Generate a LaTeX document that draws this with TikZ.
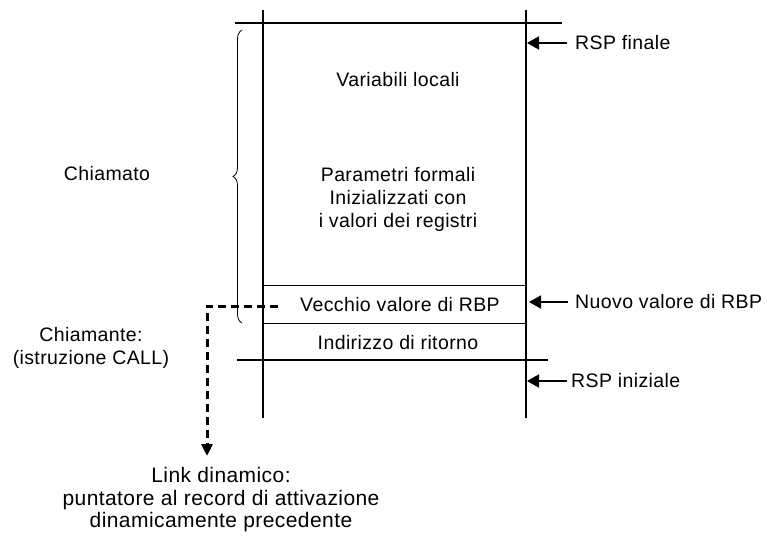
\documentclass[tikz,border=0pt]{standalone}
\usepackage{fontspec}
\setmainfont{Liberation Sans}[LetterSpace=2]
\usetikzlibrary{decorations.pathreplacing,arrows.meta}
\begin{document}
\begin{tikzpicture}[x=1pt,y={(0,-1pt)},
  lbl/.style={font=\fontsize{19.5}{23}\selectfont, inner sep=0pt, align=center},
  biglbl/.style={font=\fontsize{21}{22.5}\selectfont, inner sep=0pt, align=center},
  stk/.style={line width=1.2pt},
  thin/.style={line width=0.9pt},
  ptr/.style={line width=1.8pt,-{Triangle[length=12pt,width=13pt]}},
  dyn/.style={line width=3pt,dash pattern=on 8pt off 5pt,-{Triangle[length=12pt,width=11pt]}}]
\useasboundingbox (0,0) rectangle (767,535);
% stack frame
\draw[stk] (263,10) -- (263,418);
\draw[stk] (526,10) -- (526,418);
\draw[stk] (235,23) -- (562,23);
\draw[thin] (263,285) -- (526,285);
\draw[thin] (263,323) -- (526,323);
\draw[stk] (237,360) -- (548,360);
% texts in the frame
\node[lbl] (vl) at (398,80) {Variabili locali};
\node[lbl] (pf) at (398,199) {Parametri formali\\Inizializzati con\\i valori dei registri};
\node[lbl] (vv) at (400,305) {Vecchio valore di RBP};
\node[lbl] (ir) at (398,343) {Indirizzo di ritorno};
% right-side pointers
\node[lbl,anchor=west] (rspf) at (575,43) {RSP finale};
\node[lbl,anchor=west] (nrbp) at (575,302) {Nuovo valore di RBP};
\node[lbl,anchor=west] (rspi) at (571,381) {RSP iniziale};
\coordinate (af) at (527,43);
\coordinate (an) at (529,302);
\coordinate (ai) at (527,381);
\draw[ptr] (rspf.west) ++(-8,0) -- (af);
\draw[ptr] (nrbp.west) ++(-7,0) -- (an);
\draw[ptr] (rspi.west) ++(-4,0) -- (ai);
% brace
\draw[line width=0.8pt,decorate,decoration={brace,amplitude=9pt}] (242,323) -- (242,30);
\node[lbl] (chiamato) at (107,174) {Chiamato};
\node[lbl] (chiamante) at (91,348) {Chiamante:\\(istruzione CALL)};
% dynamic link
\coordinate (ds) at (278,306);
\coordinate (dc) at (207,306);
\node[biglbl] (link) at (221,500) {Link dinamico:\\puntatore al record di attivazione\\dinamicamente precedente};
\coordinate (de) at (207,456);
\draw[dyn] (ds) -- (dc) -- (de);
\end{tikzpicture}
\end{document}
